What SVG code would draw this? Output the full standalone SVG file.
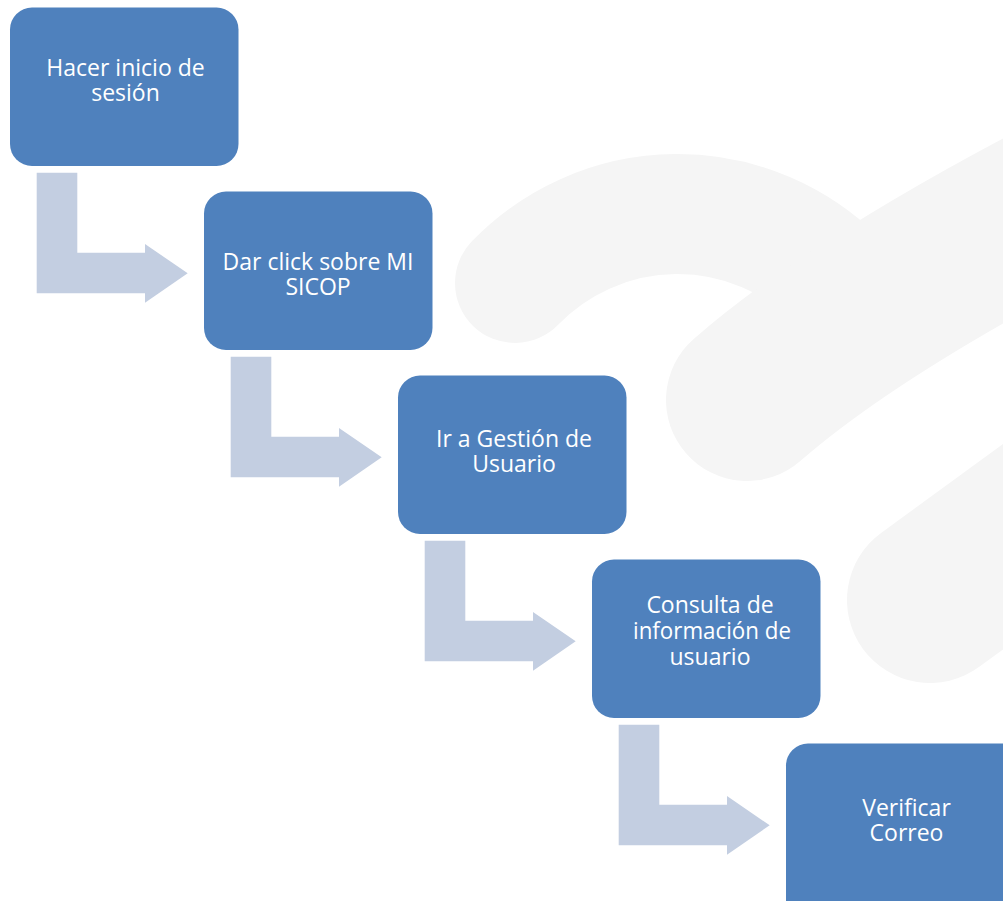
<svg xmlns="http://www.w3.org/2000/svg" width="1003" height="901" viewBox="0 0 1003 901">
  <style>
    .wm { fill: none; stroke: #f5f5f5; }
    .box { fill: #4f81bd; }
    .arrow { fill: #c3cee1; }
    .lbl { font-family: "Open Sans", "Noto Sans", "DejaVu Sans", sans-serif; font-size: 23px; fill: #ffffff; text-anchor: middle; }
  </style>
  <defs>
    <path id="bent" d="M36.7,172.7 H77.3 V252.7 H145 V244 L187.7,273.3 L145,302.7 V293.3 H36.7 Z"/>
  </defs>
  <rect width="1003" height="901" fill="#ffffff"/>
  <g id="watermark">
    <path class="wm" d="M515,283 A226,226 0 0 1 837,280" stroke-width="120" stroke-linecap="round"/>
    <path class="wm" d="M747,400 Q850,310 1060,200 L1140,160" stroke-width="162" stroke-linecap="round"/>
    <path class="wm" d="M930,600 L1200,403" stroke-width="166" stroke-linecap="round"/>
  </g>
  <g id="connectors">
    <use href="#bent" class="arrow"/>
    <use href="#bent" class="arrow" transform="translate(194,184)"/>
    <use href="#bent" class="arrow" transform="translate(388,368)"/>
    <use href="#bent" class="arrow" transform="translate(582,552)"/>
  </g>
  <g id="node1">
    <rect class="box" x="10" y="7.5" width="228.5" height="158.5" rx="22"/>
    <text class="lbl" x="125.5" y="75.5">Hacer inicio de</text>
    <text class="lbl" x="125.5" y="101">sesión</text>
  </g>
  <g id="node2">
    <rect class="box" x="204" y="191.5" width="228.5" height="158.5" rx="22"/>
    <text class="lbl" x="318" y="270">Dar click sobre MI</text>
    <text class="lbl" x="318" y="295">SICOP</text>
  </g>
  <g id="node3">
    <rect class="box" x="398" y="375.5" width="228.5" height="158.5" rx="22"/>
    <text class="lbl" x="514" y="447">Ir a Gestión de</text>
    <text class="lbl" x="514" y="472">Usuario</text>
  </g>
  <g id="node4">
    <rect class="box" x="592" y="559.5" width="228.5" height="158.5" rx="22"/>
    <text class="lbl" x="710" y="613">Consulta de</text>
    <text class="lbl" x="712" y="639" textLength="158" lengthAdjust="spacingAndGlyphs">información de</text>
    <text class="lbl" x="710" y="665">usuario</text>
  </g>
  <g id="node5">
    <rect class="box" x="786" y="743.5" width="240" height="180" rx="22"/>
    <text class="lbl" x="906.5" y="816">Verificar</text>
    <text class="lbl" x="906.5" y="841">Correo</text>
  </g>
</svg>
